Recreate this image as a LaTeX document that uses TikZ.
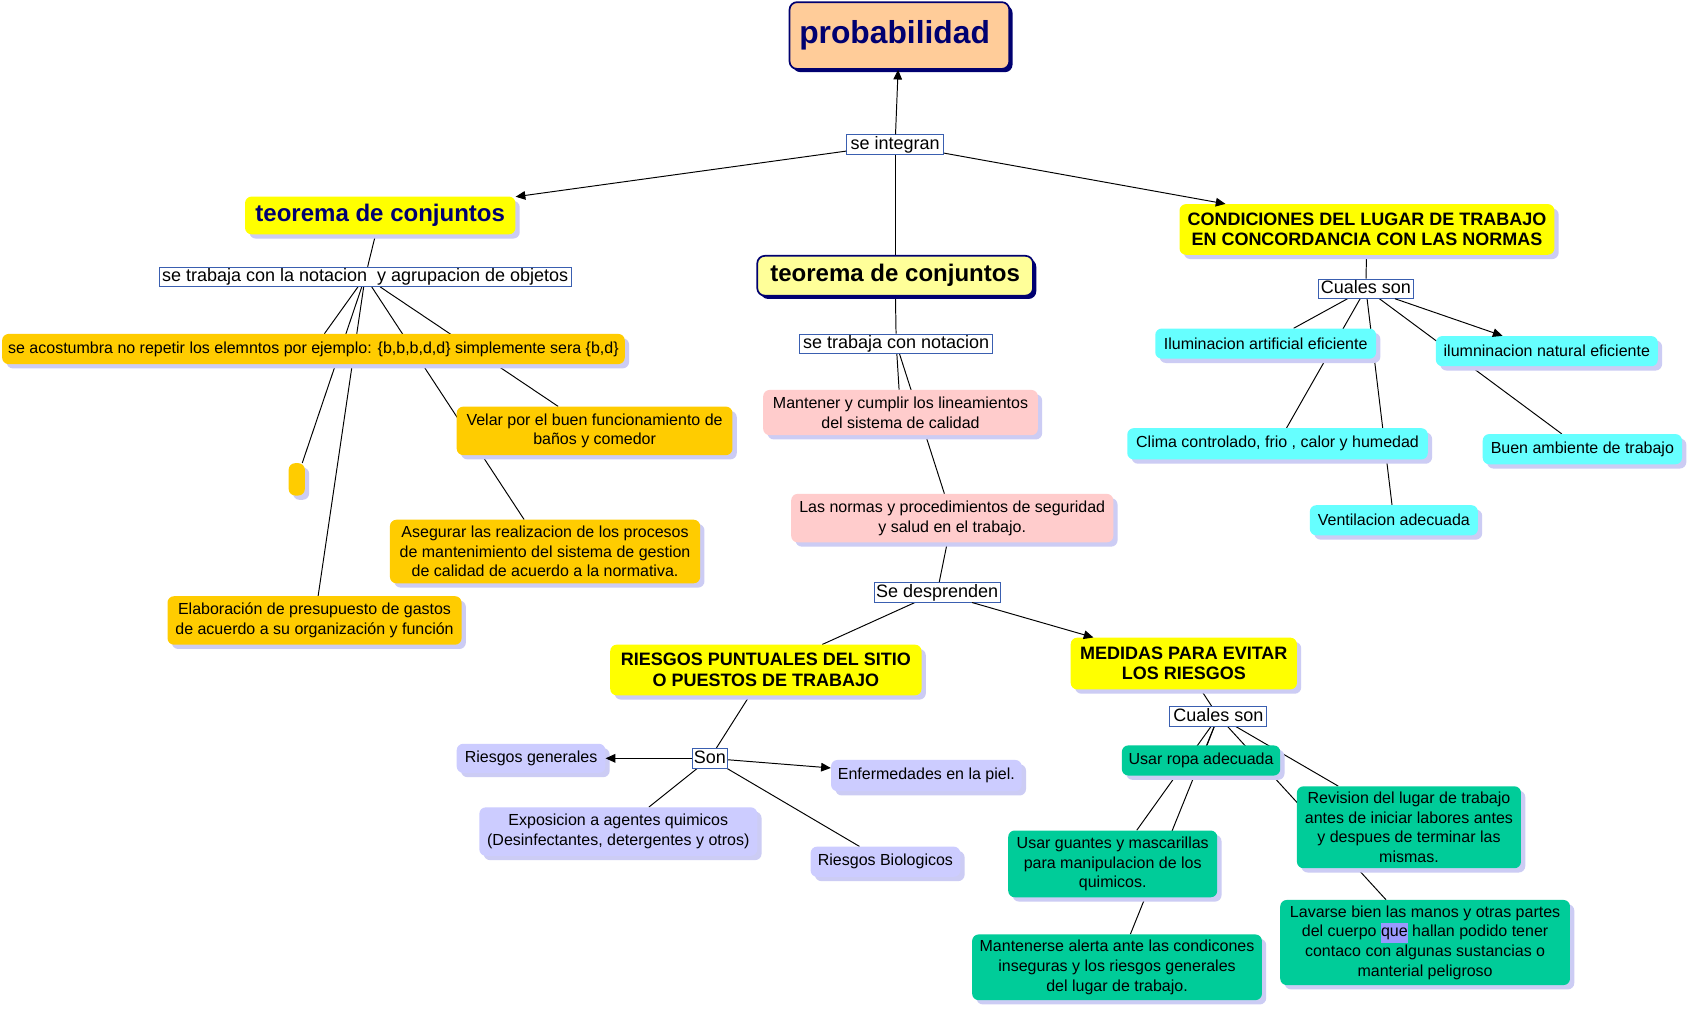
\documentclass[tikz,border=0pt]{standalone}
\usepackage{fontspec}
\setmainfont{Liberation Sans}
\usepackage{tikz}
\usetikzlibrary{arrows.meta,backgrounds,shadows}
\definecolor{marino}{HTML}{000070}
\definecolor{durazno}{HTML}{FFCC99}
\definecolor{amarillo}{HTML}{FFFF00}
\definecolor{crema}{HTML}{FFFF99}
\definecolor{naranja}{HTML}{FFCC00}
\definecolor{rosa}{HTML}{FFCCCC}
\definecolor{celeste}{HTML}{66FFFF}
\definecolor{lila}{HTML}{CCCCFF}
\definecolor{verde}{HTML}{00CC99}
\definecolor{sombra}{HTML}{CCCCF4}
\definecolor{azullink}{HTML}{3A5FB0}
\definecolor{resalte}{HTML}{9999FF}
\newcommand{\conceptfont}{\fontsize{14.85}{18.2}\selectfont}
\newcommand{\linkfont}{\fontsize{16.7}{19}\selectfont}
\newcommand{\capsfont}{\fontsize{16.7}{19}\selectfont\bfseries}
\newcommand{\teofont}{\fontsize{22.3}{26}\selectfont\bfseries}
\newcommand{\resaltar}[1]{{\setlength{\fboxsep}{0pt}\colorbox{resalte}{\strut #1}}}
\tikzset{
  concept/.style={rounded corners=6pt,inner sep=3pt,align=center,font=\conceptfont,
    drop shadow={shadow xshift=4pt,shadow yshift=-4pt,fill=sombra,opacity=1}},
  heading/.style={concept,fill=amarillo,font=\capsfont},
  framed/.style={rounded corners=7pt,draw=marino,line width=1.6pt,align=center,
    drop shadow={shadow xshift=3pt,shadow yshift=-3pt,fill=marino,opacity=1}},
  link/.style={draw=azullink,fill=white,line width=0.7pt,inner xsep=2pt,inner ysep=1pt,
    text height=12.5pt,text depth=3.5pt,font=\linkfont},
  conn/.style={line width=0.9pt},
  flow/.style={-{Triangle[length=9pt,width=8pt]},line width=0.9pt}
}

\begin{document}
\begin{tikzpicture}[x=1pt,y=-1pt]
\useasboundingbox (0,0) rectangle (1568,936);
% raiz
\node[framed,fill=durazno,text width=186pt,align=left,inner xsep=9pt,minimum height=62pt,
  font=\fontsize{29.5}{33}\selectfont\bfseries,text=marino] (prob) at (835,33) {probabilidad};
\node[link,minimum width=90pt] (seint) at (831,134) {se integran};
% rama izquierda
\node[concept,fill=amarillo,minimum width=251pt,minimum height=35pt,font=\teofont,text=marino] (teoIzq) at (353,200) {teorema de conjuntos};
\node[link,minimum width=382pt] (notIzq) at (339,257) {se trabaja con la notacion~ y agrupacion de objetos};
\node[concept,fill=naranja,minimum width=578pt,minimum height=28pt] (acost) at (291,324)
  {se acostumbra no repetir los elemntos por ejemplo: \{b,b,b,d,d\} simplemente sera \{b,d\}};
\node[concept,fill=naranja,minimum width=15pt,minimum height=30pt,inner sep=0pt] (vacio) at (275.5,445) {};
\node[concept,fill=naranja,minimum width=256pt,minimum height=45pt] (velar) at (552,400)
  {Velar por el buen funcionamiento de\\ baños y comedor};
\node[concept,fill=naranja,minimum width=288pt,minimum height=59pt] (asegurar) at (506,512)
  {Asegurar las realizacion de los procesos\\ de mantenimiento del sistema de gestion\\ de calidad de acuerdo a la normativa.};
\node[concept,fill=naranja,minimum width=273pt,minimum height=45pt] (elab) at (292,576)
  {Elaboración de presupuesto de gastos\\ de acuerdo a su organización y función};
% rama central
\node[framed,fill=crema,minimum width=256pt,minimum height=37pt,font=\teofont] (teoCen) at (831,256) {teorema de conjuntos};
\node[link,minimum width=179pt] (notCen) at (832,319) {se trabaja con notacion};
\node[concept,fill=rosa,minimum width=255pt,minimum height=42pt] (mantener) at (836,383)
  {Mantener y cumplir los lineamientos\\ del sistema de calidad};
\node[concept,fill=rosa,minimum width=299pt,minimum height=45pt] (normas) at (884,481)
  {Las normas y procedimientos de seguridad\\ y salud en el trabajo.};
\node[link,minimum width=116pt] (desp) at (870,550) {Se desprenden};
\node[heading,minimum width=289pt,minimum height=47pt] (riesgosP) at (711,622)
  {RIESGOS PUNTUALES DEL SITIO\\ O PUESTOS DE TRABAJO};
\node[heading,minimum width=210pt,minimum height=48pt] (medidas) at (1099,616)
  {MEDIDAS PARA EVITAR\\ LOS RIESGOS};
\node[link,minimum width=33pt,inner xsep=1pt] (son) at (659,704) {Son};
\node[concept,fill=lila,minimum width=138pt,minimum height=27pt] (rgen) at (493,704) {Riesgos generales};
\node[concept,fill=lila,minimum width=177pt,minimum height=29pt] (enf) at (860,720) {Enfermedades en la piel.};
\node[concept,fill=lila,minimum width=258pt,minimum height=45pt] (expo) at (574,772)
  {Exposicion a agentes quimicos\\ (Desinfectantes, detergentes y otros)};
\node[concept,fill=lila,minimum width=139pt,minimum height=28pt] (bio) at (822,800) {Riesgos Biologicos};
\node[link,minimum width=90pt] (cuales2) at (1131,665) {Cuales son};
\node[concept,fill=verde,minimum width=147pt,minimum height=28pt] (ropa) at (1115,706) {Usar ropa adecuada};
\node[concept,fill=verde,minimum width=208pt,minimum height=76pt] (revision) at (1308,768)
  {Revision del lugar de trabajo\\ antes de iniciar labores antes\\ y despues de terminar las\\ mismas.};
\node[concept,fill=verde,minimum width=194pt,minimum height=62pt] (guantes) at (1033,802)
  {Usar guantes y mascarillas\\ para manipulacion de los\\ quimicos.};
\node[concept,fill=verde,minimum width=269pt,minimum height=61pt] (mantenerse) at (1037,898)
  {Mantenerse alerta ante las condicones\\ inseguras y los riesgos generales\\ del lugar de trabajo.};
\node[concept,fill=verde,minimum width=269pt,minimum height=79pt] (lavarse) at (1323,875)
  {Lavarse bien las manos y otras partes\\ del cuerpo \resaltar{que} hallan podido tener\\ contaco con algunas sustancias o\\ manterial peligroso};
% rama derecha
\node[heading,minimum width=348pt,minimum height=47pt] (cond) at (1269,213)
  {CONDICIONES DEL LUGAR DE TRABAJO\\ EN CONCORDANCIA CON LAS NORMAS};
\node[link,minimum width=89pt] (cuales1) at (1268,268) {Cuales son};
\node[concept,fill=celeste,minimum width=205pt,minimum height=28pt] (ilumA) at (1175,319) {Iluminacion artificial eficiente};
\node[concept,fill=celeste,minimum width=206pt,minimum height=28pt] (ilumN) at (1436,326) {ilumninacion natural eficiente};
\node[concept,fill=celeste,minimum width=279pt,minimum height=29pt] (clima) at (1186,412) {Clima controlado, frio , calor y humedad};
\node[concept,fill=celeste,minimum width=185pt,minimum height=28pt] (buen) at (1469,417) {Buen ambiente de trabajo};
\node[concept,fill=celeste,minimum width=156pt,minimum height=28pt] (vent) at (1294,483) {Ventilacion adecuada};

% lineas por detras de los conceptos
\begin{scope}[on background layer]
\fill[white] (0,0) rectangle (1568,936);
\draw[conn] (seint) -- (teoCen);
\draw[conn] (teoIzq) -- (notIzq);
\foreach \t in {acost,vacio,elab,velar,asegurar}
  \draw[conn] (notIzq) -- (\t);
\draw[conn] (teoCen) -- (notCen);
\foreach \t in {mantener,normas}
  \draw[conn] (notCen) -- (\t);
\draw[conn] (normas) -- (desp);
\draw[conn] (desp) -- (riesgosP);
\draw[conn] (riesgosP) -- (son);
\foreach \t in {expo,bio}
  \draw[conn] (son) -- (\t);
\draw[conn] (medidas) -- (cuales2);
\foreach \t in {ropa,guantes,mantenerse,revision,lavarse}
  \draw[conn] (cuales2) -- (\t);
\draw[conn] (cond) -- (cuales1);
\foreach \t in {ilumA,clima,vent,buen}
  \draw[conn] (cuales1) -- (\t);
\end{scope}

% flechas
\draw[flow] (seint) -- (prob);
\draw[flow] (seint) -- (teoIzq);
\draw[flow] (seint) -- (cond);
\draw[flow] (desp) -- (medidas);
\draw[flow] (son) -- (rgen);
\draw[flow] (son) -- (enf);
\draw[flow] (cuales1) -- (ilumN);
\end{tikzpicture}
\end{document}
